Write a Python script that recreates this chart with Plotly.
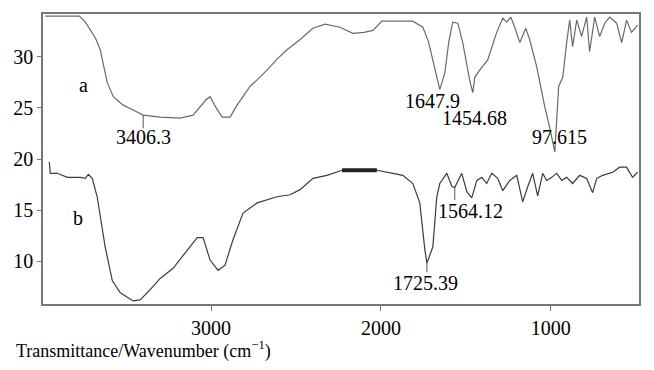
import plotly.graph_objects as go

# Curve a (upper spectrum)
wn_a = [3976, 3776, 3740, 3712, 3680, 3653, 3630, 3612, 3576, 3520, 3459, 3400, 3300, 3182,
        3106, 3065, 3030, 3006, 2970, 2935, 2888, 2850, 2812, 2771, 2720, 2671, 2610, 2553,
        2476, 2400, 2329, 2241, 2165, 2100, 2047, 1994, 1812, 1753, 1720, 1694,
        1653, 1624, 1600, 1577, 1547, 1518, 1477, 1459, 1447, 1418, 1371, 1318, 1282, 1259, 1235,
        1212, 1182, 1147, 1124, 1082, 1035, 1006, 976, 953, 929, 906, 888, 871, 847, 818,
        788, 771, 741, 712, 682, 653, 612, 582, 553, 524, 488]
t_a = [34.0, 34.0, 33.4, 32.6, 31.8, 30.7, 29.0, 27.5, 26.1, 25.3, 24.8, 24.3, 24.1, 24.0,
       24.3, 25.1, 25.8, 26.1, 25.0, 24.1, 24.1, 25.2, 26.1, 27.1, 27.9, 28.7, 29.8, 30.7,
       31.7, 32.8, 33.2, 32.9, 32.3, 32.4, 32.6, 33.5, 33.5, 32.9, 31.5, 29.7,
       26.8, 28.4, 31.5, 33.4, 33.3, 31.4, 27.7, 26.5, 28.0, 28.7, 29.7, 32.4, 33.8, 33.4, 33.9,
       32.9, 31.4, 32.8, 31.7, 29.0, 25.1, 23.1, 20.7, 27.1, 28.0, 31.4, 33.6, 31.0, 33.6, 32.0,
       33.9, 30.5, 33.9, 32.0, 33.3, 33.9, 33.3, 31.4, 33.6, 32.4, 33.1]

# Curve b (lower spectrum)
wn_b = [3953, 3947, 3906, 3847, 3771, 3741, 3723, 3700, 3671, 3653, 3624, 3582, 3535, 3459,
        3418, 3359, 3300, 3224, 3141, 3082, 3047, 3006, 2959, 2918, 2871, 2812, 2729, 2612,
        2535, 2476, 2400, 2318, 2229, 2024, 1929, 1871, 1812, 1771, 1741, 1729, 1694, 1671,
        1653, 1612, 1582, 1565, 1524, 1494, 1465, 1435, 1406, 1377, 1347, 1312, 1282, 1241,
        1200, 1165, 1135, 1106, 1077, 1047, 1024, 994, 965, 935, 906, 871, 829, 788, 753,
        729, 694, 635, 594, 553, 518, 488]
t_b = [19.7, 18.6, 18.6, 18.2, 18.2, 18.1, 18.5, 18.1, 16.3, 14.3, 11.4, 8.1, 6.9, 6.1,
       6.2, 7.2, 8.3, 9.3, 11.1, 12.3, 12.3, 10.1, 9.1, 9.6, 12.1, 14.7, 15.7, 16.3,
       16.5, 17.0, 18.1, 18.4, 18.9, 18.9, 18.6, 18.4, 17.6, 15.7, 11.1, 9.8, 11.4, 16.3,
       17.6, 18.6, 17.3, 17.2, 18.6, 16.8, 16.2, 17.9, 18.2, 17.6, 18.6, 18.1, 16.9, 17.9,
       18.4, 15.8, 17.3, 18.6, 16.4, 18.6, 17.9, 18.2, 18.6, 17.9, 18.2, 17.6, 18.4, 18.1, 16.7,
       18.1, 18.4, 18.7, 19.2, 19.2, 18.2, 18.7]

# Peak labels
peak_text = ["3406.3", "1647.9", "1454.68", "97.615", "1725.39", "1564.12"]
peak_wn = [3400, 1653, 1459, 976, 1729, 1565]
peak_t = [24.3, 26.8, 26.5, 20.7, 9.8, 17.3]
tick_end = [23.0, 26.8, 26.5, 20.7, 8.9, 16.0]
label_wn = [3400, 1694, 1447, 947, 1735, 1471]
label_t = [22.15, 25.7, 24.0, 22.2, 7.85, 14.9]

curve_names = ["a", "b"]
name_wn = [3753, 3782]
name_t = [27.2, 14.2]

xticks = [3000, 2000, 1000]
yticks = [10, 15, 20, 25, 30]

FONT = "Times New Roman, Liberation Serif, serif"

fig = go.Figure()
fig.add_trace(go.Scatter(x=wn_a, y=t_a, mode="lines",
                         line=dict(color="#6a6a6a", width=1.2), showlegend=False))
fig.add_trace(go.Scatter(x=wn_b, y=t_b, mode="lines",
                         line=dict(color="#3c3c3c", width=1.2), showlegend=False))

# thick flat segment on curve b
seg_x = [w for w in wn_b if 2024 <= w <= 2229]
seg_y = [t for w, t in zip(wn_b, t_b) if 2024 <= w <= 2229]
fig.add_trace(go.Scatter(x=seg_x, y=seg_y, mode="lines",
                         line=dict(color="#222222", width=4), showlegend=False))

for w, t0, t1 in zip(peak_wn, peak_t, tick_end):
    if t0 != t1:
        fig.add_trace(go.Scatter(x=[w, w], y=[t0, t1], mode="lines",
                                 line=dict(color="#555555", width=1), showlegend=False))

for txt, w, t in zip(peak_text, label_wn, label_t):
    fig.add_annotation(x=w, y=t, text=txt, showarrow=False,
                       font=dict(family=FONT, size=20, color="black"))

for txt, w, t in zip(curve_names, name_wn, name_t):
    fig.add_annotation(x=w, y=t, text=txt, showarrow=False,
                       font=dict(family=FONT, size=20, color="black"))

fig.add_annotation(xref="paper", yref="paper", x=-0.048, y=-0.159, xanchor="left", yanchor="middle",
                   text="Transmittance/Wavenumber (cm<sup>\u22121</sup>)", showarrow=False,
                   font=dict(family=FONT, size=18, color="black"))

fig.update_layout(
    width=654, height=370,
    margin=dict(l=43, r=15, t=14, b=66),
    paper_bgcolor="white", plot_bgcolor="white",
    font=dict(family=FONT, size=20, color="black"),
    xaxis=dict(range=[3990, 480], tickvals=xticks, ticktext=[str(v) for v in xticks],
               showgrid=False, zeroline=False, showline=True, linecolor="#777777",
               linewidth=1.5, mirror=True, ticks="outside", ticklen=5, tickcolor="#777777",
               tickfont=dict(family=FONT, size=20), automargin=False),
    yaxis=dict(range=[5.8, 34.2], tickvals=yticks, ticktext=[str(v) for v in yticks],
               showgrid=False, zeroline=False, showline=True, linecolor="#777777",
               linewidth=1.5, mirror=True, ticks="outside", ticklen=4, tickcolor="#777777",
               tickfont=dict(family=FONT, size=20), automargin=False),
)

fig.write_html("out.html", config={"displayModeBar": False},
               post_script="document.body.style.margin='0';document.body.style.padding='0';")
